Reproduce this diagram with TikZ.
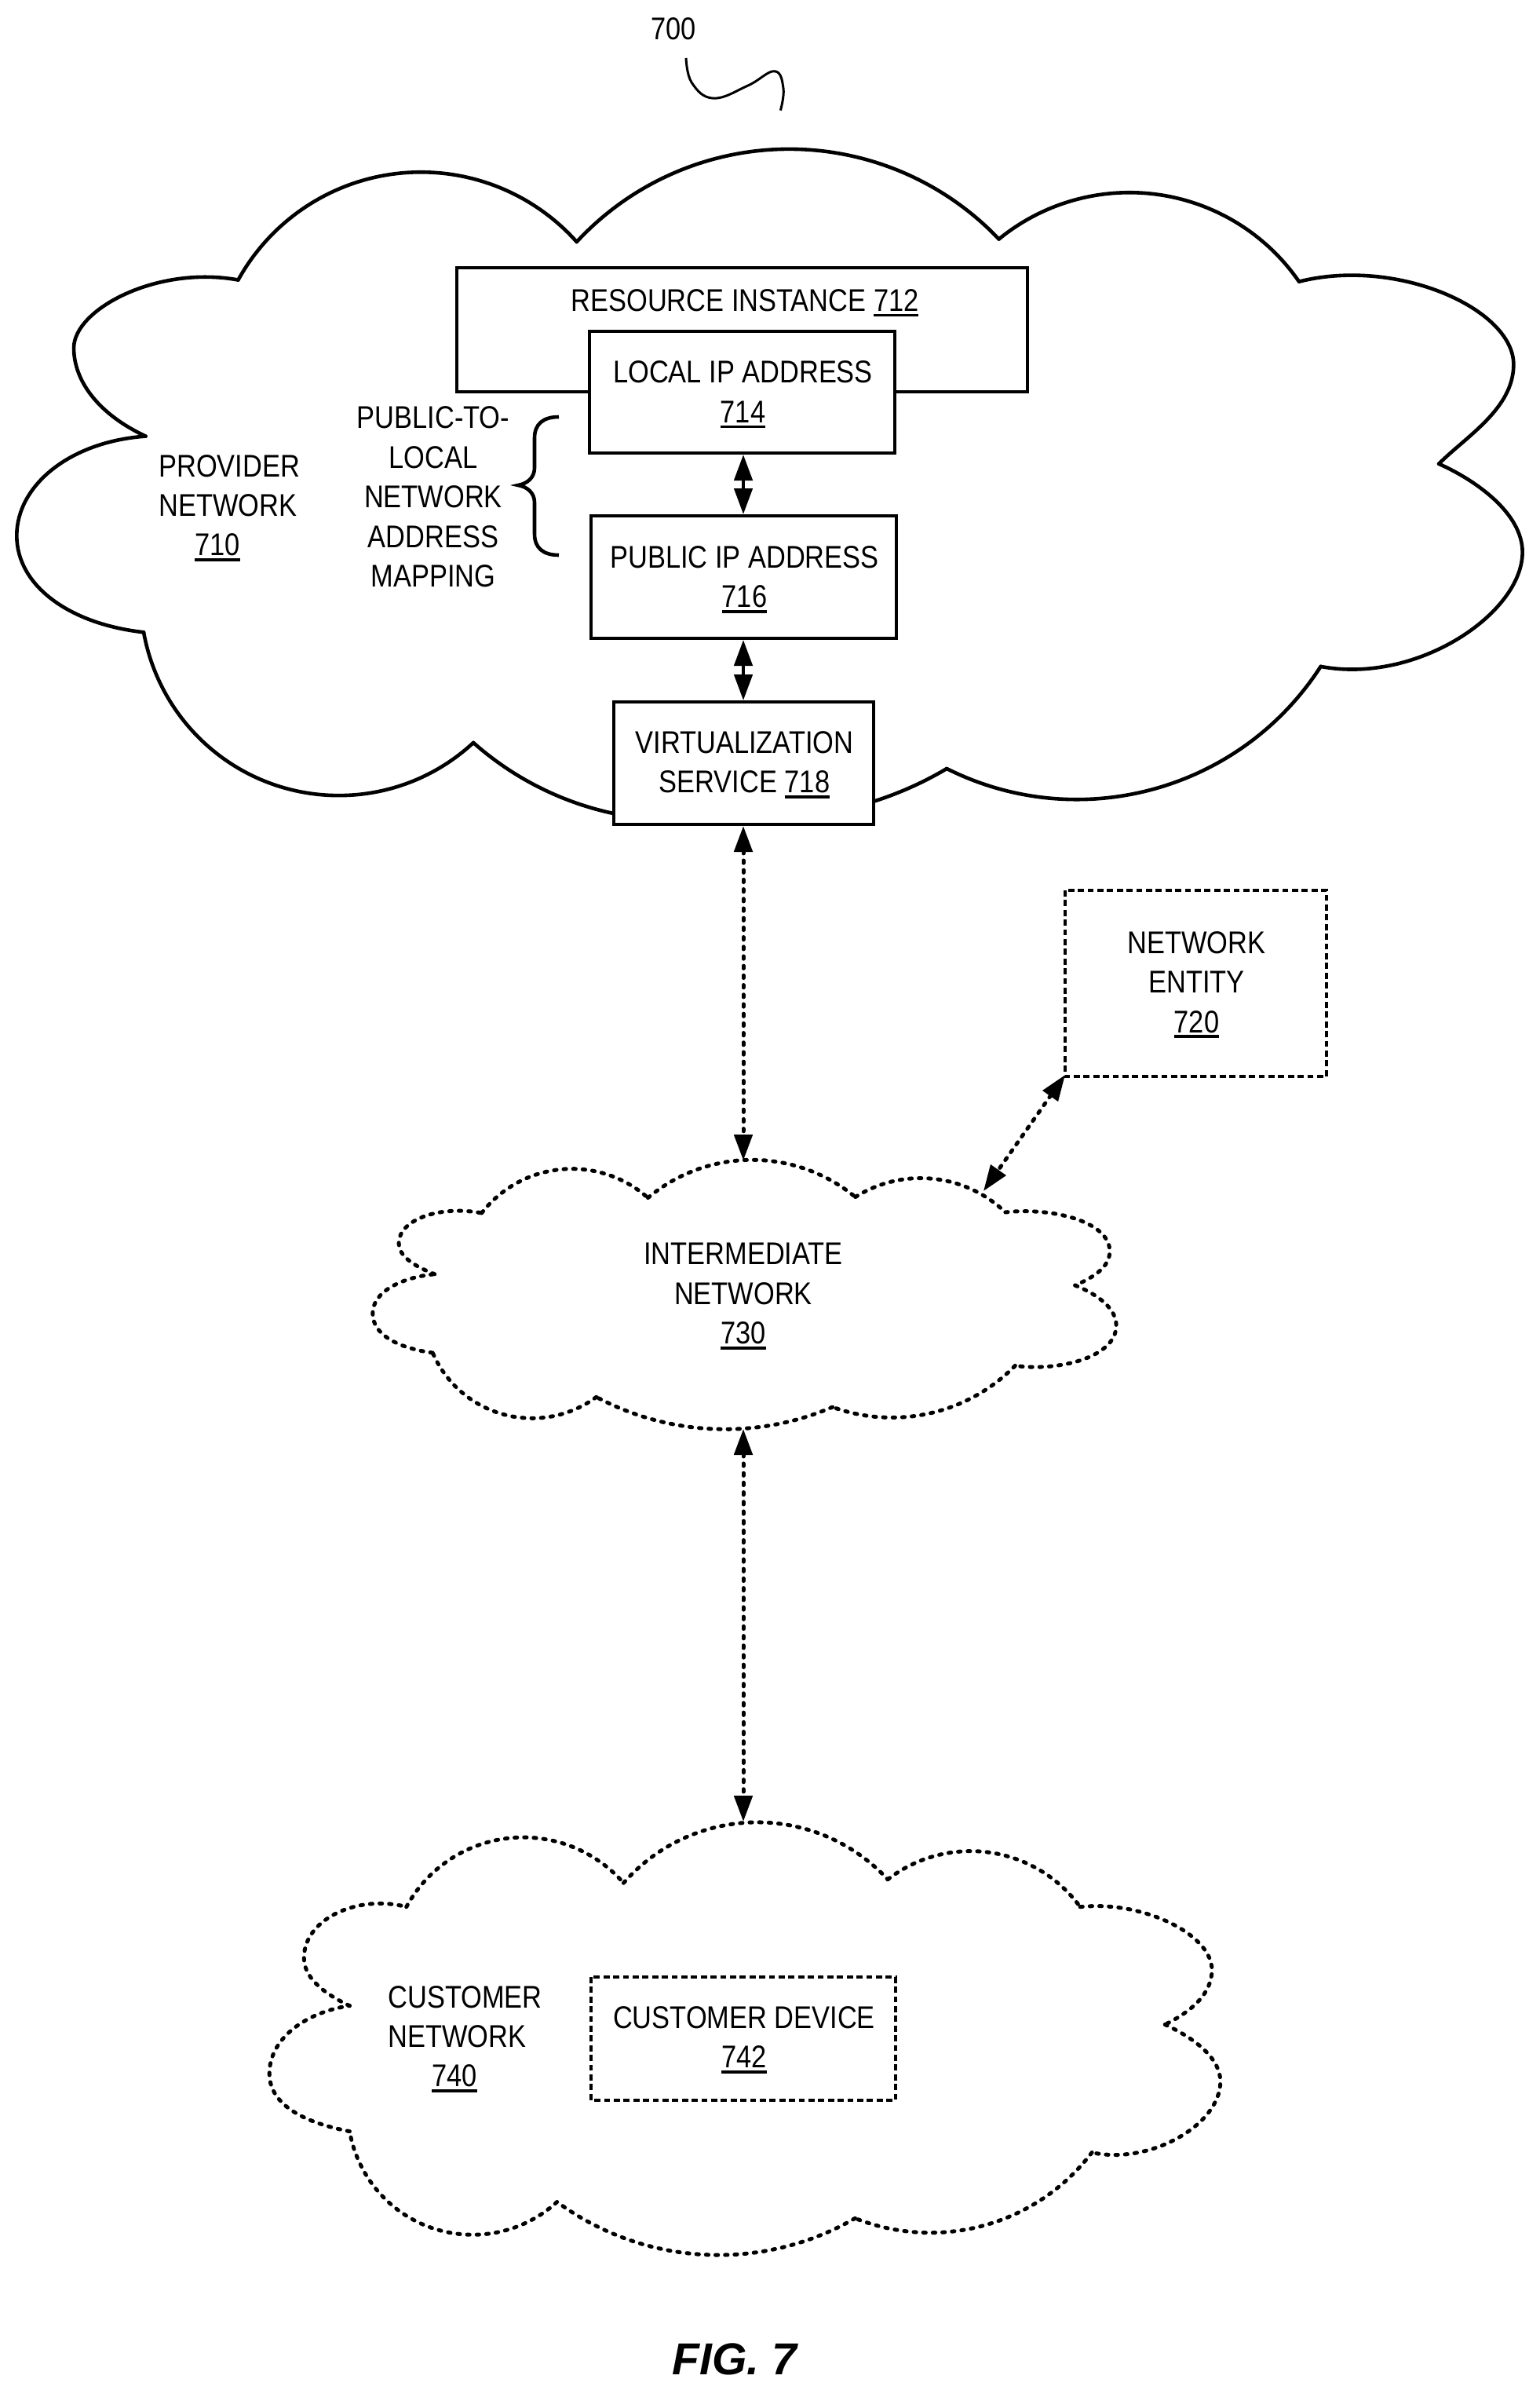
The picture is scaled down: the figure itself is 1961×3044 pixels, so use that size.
\documentclass[tikz,border=0pt]{standalone}
\usepackage{fontspec}
\setmainfont[FakeStretch=0.86]{Liberation Sans}
\newfontfamily\figfont{Liberation Sans}
\usetikzlibrary{arrows.meta}
\newcommand{\ulnum}[1]{\setbox0\hbox{#1}\rlap{\raisebox{-3.4pt}{\rule{\wd0}{1.7pt}}}\box0}
\tikzset{
  x=0.5pt,y=-0.5pt,
  every node/.style={font=\fontsize{20}{25.2}\selectfont,inner sep=0pt,align=center},
  line/.style={line width=2.3pt,line join=miter},
  cloudline/.style={line width=2.3pt,line cap=round},
  clouddot/.style={line width=2.5pt,line cap=round,dash pattern=on 1.6pt off 4.5pt},
  dotline/.style={line width=2.3pt,dash pattern=on 3.9pt off 2.3pt},
  solidbox/.style={draw,line width=2.3pt,fill=white},
  dblarrow/.style={line width=2.3pt,{Triangle[length=16.5pt,width=11.5pt]}-{Triangle[length=16.5pt,width=11.5pt]}},
  dotarrow/.style={dblarrow,line width=2.5pt,line cap=round,dash pattern=on 1.6pt off 4.5pt},
  figlabel/.style={font=\figfont\fontsize{28.5}{30}\selectfont\bfseries\itshape},
}
\newcommand{\boxnode}[8]{% name, left, top, right, bottom, style, text shift, text
  \path[#6] (#2,#3) rectangle (#4,#5);
  \coordinate (#1nw) at (#2,#3);
  \coordinate (#1se) at (#4,#5);
  \node[yshift=#7,xshift=.5pt] (#1) at ({(#2+#4)/2},{(#3+#5)/2}) {#8};
}
% circular arcs through three measured points; #1 style, #2 #3 origin, #4 #5 scale
\newcommand{\cloudlobes}[6]{%
 \foreach \pax/\pay/\pmx/\pmy/\pbx/\pby in {#6} {
  \pgfmathsetmacro\Ax{#2+#4*\pax}
  \pgfmathsetmacro\Ay{#3+#5*\pay}
  \pgfmathsetmacro\ux{#4*(\pmx-\pax)/100}
  \pgfmathsetmacro\uy{#5*(\pmy-\pay)/100}
  \pgfmathsetmacro\vx{#4*(\pbx-\pax)/100}
  \pgfmathsetmacro\vy{#5*(\pby-\pay)/100}
  \pgfmathsetmacro\Dd{2*(\ux*\vy-\uy*\vx)}
  \pgfmathsetmacro\uu{\ux*\ux+\uy*\uy}
  \pgfmathsetmacro\vv{\vx*\vx+\vy*\vy}
  \pgfmathsetmacro\cx{(\vy*\uu-\uy*\vv)/\Dd}
  \pgfmathsetmacro\cy{(\ux*\vv-\vx*\uu)/\Dd}
  \pgfmathsetmacro\rr{100*sqrt(\cx*\cx+\cy*\cy)}
  \pgfmathsetmacro\sa{atan2(-\cy,-\cx)}
  \pgfmathsetmacro\ma{mod(atan2(\uy-\cy,\ux-\cx)-\sa+720,360)}
  \pgfmathsetmacro\ea{mod(atan2(\vy-\cy,\vx-\cx)-\sa+720,360)}
  \pgfmathsetmacro\da{\ma<\ea?\ea:\ea-360}
  \draw[#1] (\Ax,\Ay) arc[start angle=\sa,delta angle=\da,radius=\rr];
 }}
\begin{document}
\begin{tikzpicture}
\useasboundingbox (0,0) rectangle (1961,3044);
\node (n700) at (858,37) {700};
\begin{scope}[xscale=1.2538,yscale=.7033]
\coordinate (sqa) at (697,105);
\coordinate (sqb) at (793,200);
\draw[line width=1.5pt] plot[smooth,tension=.7] coordinates {(sqa) (703,150) (725,178) (760,155) (787,129) (796,160) (sqb)};
% provider cloud: side lobes
\draw[cloudline] (1320,510) .. controls (1420,465) and (1538,560) .. (1538,660) .. controls (1538,740) and (1490,790) .. (1462,840);
\draw[cloudline] (1462,840) .. controls (1500,870) and (1547,930) .. (1547,1000) .. controls (1547,1110) and (1440,1240) .. (1342,1207);
\draw[cloudline] (146,1145) .. controls (70,1130) and (17,1060) .. (17,970) .. controls (17,880) and (70,800) .. (148,790);
\draw[cloudline] (148,790) .. controls (100,750) and (75,690) .. (75,630) .. controls (75,560) and (160,480) .. (242,507);
\end{scope}
\cloudlobes{cloudline}{0}{0}{1.2538}{.7033}{
 242/507/420/312/586/438,
 586/438/800/270/1015/433,
 1015/433/1165/350/1320/510,
 1342/1207/1180/1425/962/1392,
 962/1392/890/1450/800/1480,
 700/1485/590/1457/481/1345,
 481/1345/320/1438/146/1145}
\node[anchor=west,align=left] (n710) at (202,647) {PROVIDER\\NETWORK\\\hspace*{23pt}\ulnum{710}};
\boxnode{n712}{582}{341}{1309}{499}{solidbox}{-1.5pt}{\phantom{x}}
\node (n712t) at (949,386) {RESOURCE INSTANCE \ulnum{712}};
\boxnode{n714}{751}{422}{1140}{577}{solidbox}{-1.5pt}{LOCAL IP ADDRESS\\\ulnum{714}}
\boxnode{n716}{753}{657}{1142}{813}{solidbox}{-1.5pt}{PUBLIC IP ADDRESS\\\ulnum{716}}
\boxnode{n718}{782}{894}{1113}{1050}{solidbox}{-1pt}{VIRTUALIZATION\\SERVICE \ulnum{718}}
\node (nmap) at (552,633) {PUBLIC-TO-\\LOCAL\\NETWORK\\ADDRESS\\MAPPING};
\coordinate (bra) at (712,531);
\coordinate (brb) at (712,707);
\coordinate (brt) at (660,618);
\draw[line] (bra) .. controls (692,531) and (681,540) .. (681,558) -- (681,596)
  .. controls (681,608) and (672,616) .. (brt) .. controls (672,620) and (681,628) .. (681,640) -- (681,680)
  .. controls (681,698) and (692,707) .. (brb);
\coordinate (a14) at (947,579);
\coordinate (a16) at (947,655);
\coordinate (b16) at (947,815);
\coordinate (b18) at (947,892);
\draw[dblarrow] (a14) -- (a16);
\draw[dblarrow] (b16) -- (b18);
% intermediate cloud
\begin{scope}[shift={(400,1100)},xscale=.831,yscale=.5115]
\draw[clouddot] (1060,868) .. controls (1130,855) and (1220,890) .. (1220,965) .. controls (1220,1005) and (1195,1030) .. (1167,1050);
\draw[clouddot] (1167,1050) .. controls (1205,1075) and (1230,1110) .. (1230,1150) .. controls (1230,1230) and (1140,1265) .. (1075,1250);
\draw[clouddot] (182,1218) .. controls (125,1205) and (90,1170) .. (90,1120) .. controls (90,1065) and (135,1030) .. (185,1022);
\draw[clouddot] (185,1022) .. controls (150,1000) and (130,975) .. (130,945) .. controls (130,885) and (195,850) .. (257,870);
\end{scope}
\cloudlobes{clouddot}{400}{1100}{.831}{.5115}{
 257/870/390/760/512/832,
 512/832/660/738/830/830,
 830/830/930/783/1060/868,
 1075/1250/940/1370/795/1353,
 795/1353/620/1408/433/1328,
 433/1328/300/1375/182/1218}
\node (n730) at (947,1651) {INTERMEDIATE\\NETWORK\\\ulnum{730}};
\coordinate (c30t) at (947,1478);
\coordinate (c30b) at (947,1820);
\coordinate (c30e) at (1253,1517);
\boxnode{n720}{1357}{1134}{1690}{1371}{draw,dotline}{-.8pt}{NETWORK\\ENTITY\\\ulnum{720}}
% customer cloud
\begin{scope}[shift={(300,2250)},xscale=.831,yscale=.5077]
\draw[clouddot] (1295,352) .. controls (1390,335) and (1497,420) .. (1497,510) .. controls (1497,570) and (1465,615) .. (1425,647);
\draw[clouddot] (1425,647) .. controls (1475,685) and (1510,735) .. (1510,790) .. controls (1510,900) and (1400,1000) .. (1313,968);
\draw[clouddot] (175,915) .. controls (95,890) and (52,840) .. (52,770) .. controls (52,680) and (110,615) .. (175,600);
\draw[clouddot] (175,600) .. controls (130,565) and (105,525) .. (105,480) .. controls (105,380) and (190,320) .. (262,352);
\end{scope}
\cloudlobes{clouddot}{300}{2250}{.831}{.5077}{
 262/352/430/178/595/292,
 595/292/790/140/1000/283,
 1000/283/1130/212/1295/352,
 1313/968/1160/1145/950/1133,
 950/1133/730/1225/493/1092,
 493/1092/340/1172/175/915}
\node[anchor=west,align=left] (n740) at (494,2597) {CUSTOMER\\NETWORK\\\hspace*{28pt}\ulnum{740}};
\coordinate (c40t) at (947,2320);
\boxnode{n742}{753}{2518}{1141}{2675}{draw,dotline}{-.8pt}{CUSTOMER DEVICE\\\ulnum{742}}
\coordinate (d18) at (947,1052);
\coordinate (d20) at (1357,1369);
\draw[dotarrow] (d18) -- (c30t);
\draw[dotarrow] (d20) -- (c30e);
\draw[dotarrow] (c30b) -- (c40t);
\node[figlabel] (fig) at (936,3005) {FIG. 7};
\end{tikzpicture}
\end{document}
